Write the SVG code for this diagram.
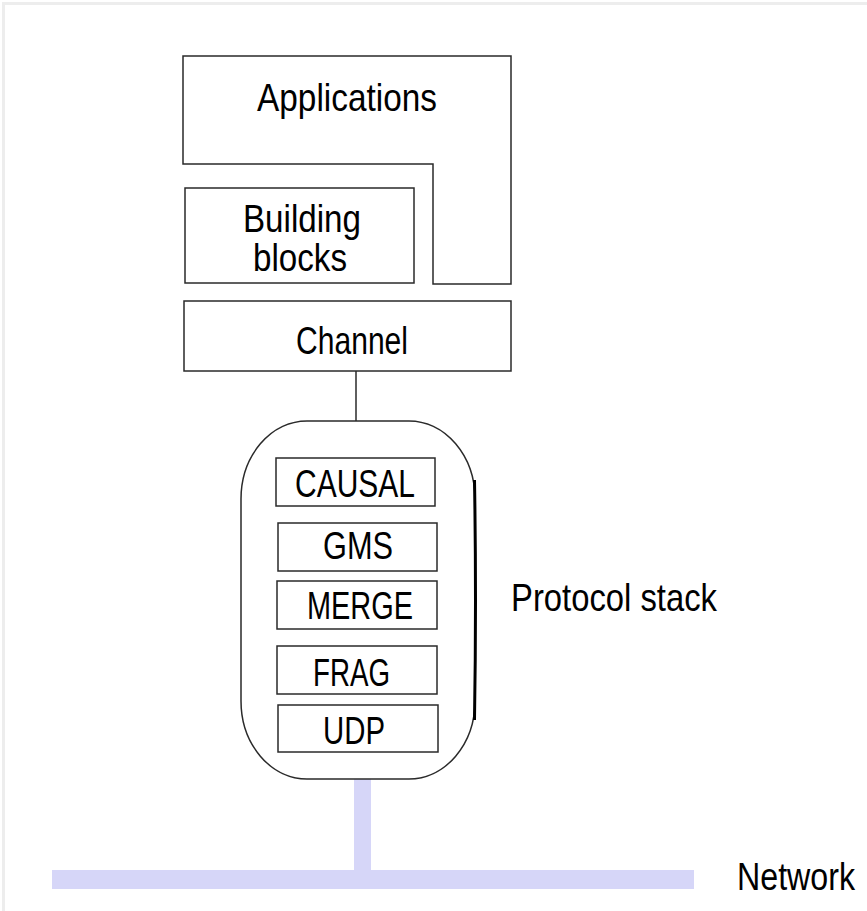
<svg xmlns="http://www.w3.org/2000/svg" width="867" height="911" viewBox="0 0 867 911">
  <style>
    .box { fill: #ffffff; stroke: #2a2a2a; stroke-width: 1.5; }
    .lbl { font-family: "Liberation Sans", Arial, sans-serif; font-size: 39px; fill: #000000; }
    .net { fill: #d6d6f8; }
    .wire { stroke: #2a2a2a; stroke-width: 1.5; fill: none; }
  </style>
  <rect x="0" y="0" width="867" height="911" fill="#ffffff"/>
  <!-- faint page frame -->
  <path d="M3.5 911 V3.5 H867" fill="none" stroke="#ededed" stroke-width="3"/>

  <g id="applications">
    <path class="box" d="M183 56 H511 V284 H433 V164 H183 Z"/>
    <text class="lbl" x="257" y="111" textLength="180" lengthAdjust="spacingAndGlyphs">Applications</text>
  </g>

  <g id="building-blocks">
    <rect class="box" x="185" y="188" width="229" height="95"/>
    <text class="lbl" x="243" y="232" textLength="118" lengthAdjust="spacingAndGlyphs">Building</text>
    <text class="lbl" x="253" y="271" textLength="94" lengthAdjust="spacingAndGlyphs">blocks</text>
  </g>

  <g id="channel">
    <rect class="box" x="184" y="301" width="327" height="70"/>
    <text class="lbl" x="296" y="354" textLength="112" lengthAdjust="spacingAndGlyphs">Channel</text>
  </g>

  <g id="connectors">
    <line class="wire" x1="356" y1="371" x2="356" y2="421"/>
    <rect class="net" x="354" y="779" width="17" height="92"/>
    <rect class="net" x="52" y="870" width="642" height="19"/>
  </g>

  <g id="protocol-stack">
    <rect class="box" x="241" y="421" width="234" height="358" rx="66" ry="78"/>
    <path d="M474.5 480 Q476.5 600 474.5 720" fill="none" stroke="#000" stroke-width="3"/>
    <text class="lbl" x="511" y="611" textLength="206" lengthAdjust="spacingAndGlyphs">Protocol stack</text>
  </g>

  <g id="causal">
    <rect class="box" x="276" y="458" width="159" height="48"/>
    <text class="lbl" x="295" y="497" textLength="120" lengthAdjust="spacingAndGlyphs">CAUSAL</text>
  </g>
  <g id="gms">
    <rect class="box" x="278" y="523" width="159" height="48"/>
    <text class="lbl" x="323" y="559" textLength="70" lengthAdjust="spacingAndGlyphs">GMS</text>
  </g>
  <g id="merge">
    <rect class="box" x="277" y="581" width="160" height="48"/>
    <text class="lbl" x="307" y="619" textLength="106" lengthAdjust="spacingAndGlyphs">MERGE</text>
  </g>
  <g id="frag">
    <rect class="box" x="277" y="646" width="160" height="48"/>
    <text class="lbl" x="313" y="686" textLength="77" lengthAdjust="spacingAndGlyphs">FRAG</text>
  </g>
  <g id="udp">
    <rect class="box" x="278" y="705" width="160" height="47"/>
    <text class="lbl" x="323" y="744" textLength="62" lengthAdjust="spacingAndGlyphs">UDP</text>
  </g>

  <g id="network">
    <text class="lbl" x="737" y="890" textLength="118" lengthAdjust="spacingAndGlyphs">Network</text>
  </g>
</svg>
